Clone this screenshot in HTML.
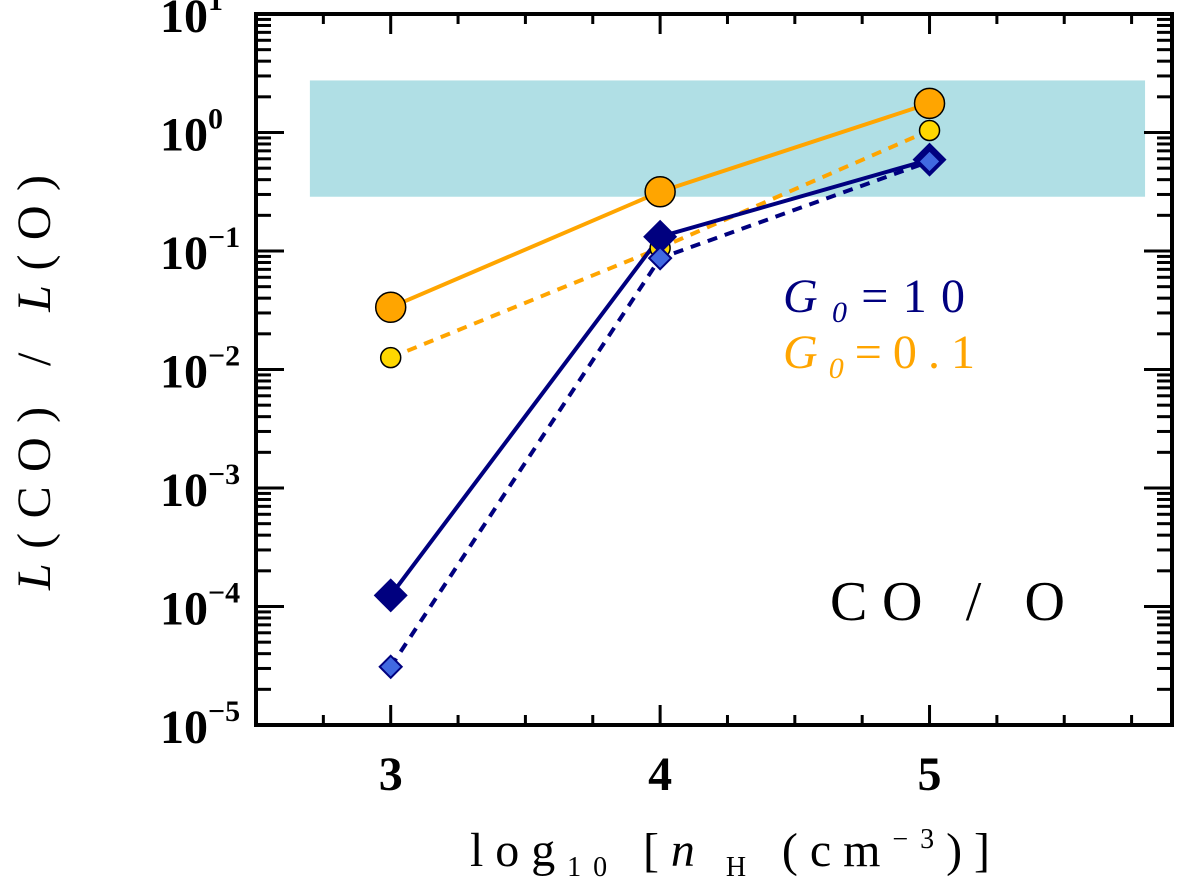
<!DOCTYPE html>
<html><head><meta charset="utf-8"><style>
html,body{margin:0;padding:0;background:#fff;}
svg{display:block;font-family:"Liberation Serif","DejaVu Serif",serif;}
</style></head><body>
<svg id="chart" width="1200" height="887" viewBox="0 0 1200 887" xmlns="http://www.w3.org/2000/svg">
<g id="band"></g><g id="series"></g><g id="axes"></g>
<text x="783" y="312" font-size="48" fill="#00007f" font-style="italic" textLength="182" lengthAdjust="spacing">G<tspan font-size="30" dy="10">0</tspan><tspan font-style="normal" dy="-10">=10</tspan></text>
<text x="783" y="368" font-size="48" fill="#ffa500" font-style="italic" textLength="192" lengthAdjust="spacing">G<tspan font-size="30" dy="10">0</tspan><tspan font-style="normal" dy="-10">=0.1</tspan></text>
<text x="830" y="620" font-size="56" fill="#000" textLength="235" lengthAdjust="spacing">CO / O</text>
<text x="470" y="866" font-size="48" textLength="520" lengthAdjust="spacing">log<tspan font-size="28" dy="10">10</tspan><tspan dy="-10"> [</tspan><tspan font-style="italic">n</tspan><tspan font-size="28" dy="10"> H</tspan><tspan dy="-10"> (cm</tspan><tspan font-size="28" dy="-18">−3</tspan><tspan dy="18">)]</tspan></text>
<text transform="translate(50,590) rotate(-90)" font-size="48" textLength="415" lengthAdjust="spacing"><tspan font-style="italic">L</tspan>(CO) / <tspan font-style="italic">L</tspan>(O)</text>
</svg>
<script>
const xVals=[3,4,5];
const orangeSolid=[0.0335,0.316,1.76];
const orangeDashed=[0.0126,0.106,1.04];
const navySolid=[1.24e-4,0.132,0.59];
const navyDashed=[3.1e-5,0.087,0.57];
const bandX=[2.7,5.8];
const bandY=[0.287,2.75];
const xTicks=[3,4,5];
const yTickExps=[-5,-4,-3,-2,-1,0,1];

const L=256,R=1172,T=14,B=725,X0=2.5,X1=5.9,Y0=-5,Y1=1;
const sx=v=>L+(v-X0)/(X1-X0)*(R-L);
const sy=v=>B-(Math.log10(v)-Y0)/(Y1-Y0)*(B-T);
const NS="http://www.w3.org/2000/svg";
function mk(tag,attrs,parent){const e=document.createElementNS(NS,tag);for(const k in attrs)e.setAttribute(k,attrs[k]);parent.appendChild(e);return e;}
const band=document.getElementById('band'),ser=document.getElementById('series'),ax=document.getElementById('axes');

const b=mk('rect',{x:sx(bandX[0]),y:sy(bandY[1]),width:sx(bandX[1])-sx(bandX[0]),height:sy(bandY[0])-sy(bandY[1]),fill:'#b0dfe5'},band);



function line(vals,color,dash,name){
  const p=mk('polyline',{points:vals.map((v,i)=>sx(xVals[i])+','+sy(v)).join(' '),fill:'none',stroke:color,'stroke-width':4,'stroke-dasharray':dash},ser);
  
  
}
line(orangeSolid,'#ffa500','none','line-orange-solid');
line(orangeDashed,'#ffa500','10,8','line-orange-dashed');
line(navySolid,'#00007f','none','line-navy-solid');
line(navyDashed,'#00007f','10,8','line-navy-dashed');

orangeSolid.forEach((v,i)=>{const c=mk('circle',{cx:sx(xVals[i]),cy:sy(v),r:15,fill:'#ffa500',stroke:'#000','stroke-width':1.5},ser);

});
orangeDashed.forEach((v,i)=>{const c=mk('circle',{cx:sx(xVals[i]),cy:sy(v),r:10,fill:'#ffd700',stroke:'#000','stroke-width':1.5},ser);

});
navySolid.forEach((v,i)=>{const x=sx(xVals[i]),y=sy(v),s=17;const d=mk('polygon',{points:`${x},${y-s} ${x+s},${y} ${x},${y+s} ${x-s},${y}`,fill:'#00007f'},ser);

});
navyDashed.forEach((v,i)=>{const x=sx(xVals[i]),y=sy(v),s=11;const d=mk('polygon',{points:`${x},${y-s} ${x+s},${y} ${x},${y+s} ${x-s},${y}`,fill:'#4169e1',stroke:'#00007f','stroke-width':2},ser);

});

const fr=mk('rect',{x:L,y:T,width:R-L,height:B-T,fill:'none',stroke:'#000','stroke-width':4},ax);


for(let v=2.5;v<=5.9+1e-9;v+=0.25){
  const major=Math.abs(v-Math.round(v))<1e-6, len=major?20:10, x=sx(v);
  const t1=mk('line',{x1:x,x2:x,y1:B,y2:B-len,stroke:'#000','stroke-width':3},ax);
  
  
  const t2=mk('line',{x1:x,x2:x,y1:T,y2:T+len,stroke:'#000','stroke-width':3},ax);
  
  
}
xTicks.forEach(v=>{const t=mk('text',{x:sx(v),y:790,'font-size':48,'text-anchor':'middle','font-weight':'bold'},ax);t.textContent=v;

});
for(let e=Y0;e<Y1;e++){for(let m=1;m<10;m++){
  const y=sy(m*Math.pow(10,e)),len=m===1?28:15;
  const t1=mk('line',{x1:L,x2:L+len,y1:y,y2:y,stroke:'#000','stroke-width':3},ax);
  
  
  const t2=mk('line',{x1:R,x2:R-len,y1:y,y2:y,stroke:'#000','stroke-width':3},ax);
  
  
}}
yTickExps.forEach(e=>{const y=sy(Math.pow(10,e));
  const t=mk('text',{x:160,y:y+18,'font-size':48,'font-weight':'bold'},ax);
  
  
  t.textContent='10';
  const s=mk('tspan',{'font-size':30,dy:-22},t);s.textContent=e<0?'−'+(-e):String(e);
});
</script>
</body></html>
